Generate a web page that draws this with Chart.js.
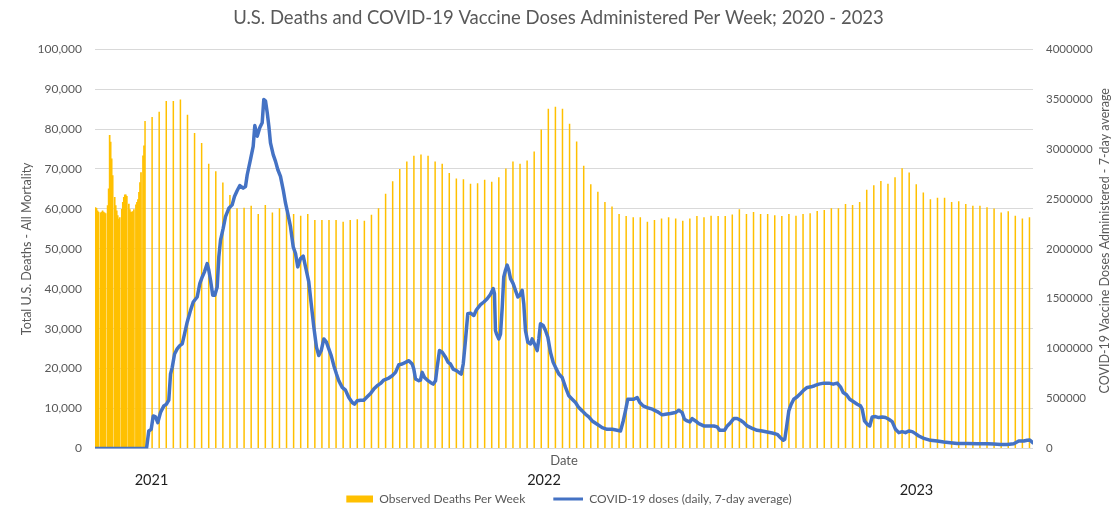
<!DOCTYPE html>
<html>
<head>
<meta charset="utf-8">
<script src="https://cdn.jsdelivr.net/npm/chart.js@4"></script>
<style>
  html, body { margin: 0; padding: 0; background: #ffffff; }
  #wrap { width: 1117px; height: 508px; position: relative; }
</style>
</head>
<body>
<div id="wrap"><canvas id="c" width="1117" height="508"></canvas></div>
<script>
// ---------------- DATA ----------------
const chartTitle = 'U.S. Deaths and COVID-19 Vaccine Doses Administered Per Week; 2020 - 2023';
const leftAxisTitle = 'Total U.S. Deaths - All Mortality';
const rightAxisTitle = 'COVID-19 Vaccine Doses Administered - 7-day average';
const xAxisTitle = 'Date';
const seriesLabels = ['Observed Deaths Per Week', 'COVID-19 doses (daily, 7-day average)'];
const yearLabels = ['2021', '2022', '2023'];
const yearLabelDays = [55.4, 443.7, 812.2];   // day index where each year label sits

// Deaths, late 2020 (one value per day, days 0..48; gaps where no value)
const deaths2020Daily = [
  60400, 60200, 59600, 59300, null, 59100, 59300, 59600, 59300, 59100,
  58900, null, 60900, 65100, 78500, 76800, 72600, 68400, null, 63000,
  60900, 59600, 58400, 57500, 57900, null, 60000, 61700, 63000, 63600,
  63600, 63200, null, 61300, 59900, 59300, 59300, 59400, 59900, null,
  61100, 61700, 62400, 64200, 66700, 69200, null, 73400, 75900
];
const weeklyStartDay = 49;   // first weekly value (day index), then every 7 days
const deathsWeekly = [
  82000, 83000, 84300, 87000, 87000, 87400, 83600, 79000, 76500, 71300,
  69400, 66600, 63500, 60150, 60300, 60800, 58700, 61000, 59100, 60150,
  59100, 58700, 58300, 58700, 57200, 57200, 57200, 57200, 56800, 57200,
  57400, 57000, 58500, 60150, 63800, 66900, 70000, 71900, 73300, 73600,
  73300, 71900, 71300, 69000, 67600, 67400, 66300, 66400, 67300, 66800,
  67900, 70100, 71900, 71300, 72100, 74400, 79900, 85100, 85600, 85100,
  81300, 76900, 70800, 66200, 64300, 61700, 60600, 58700, 58200, 57900,
  57900, 56800, 57200, 57600, 57900, 57600, 57000, 57600, 58200, 57900,
  58300, 58200, 58200, 58600, 59900, 58700, 59200, 58700, 58700, 58400,
  58200, 58700, 58300, 58700, 58900, 59500, 59700, 60150, 60150, 61200,
  61000, 61700, 64800, 65900, 67000, 66300, 67900, 70200, 69100, 66200,
  64100, 62400, 62800, 62800, 61700, 61900, 61200, 60800, 60800, 60400,
  60100, 59100, 59400, 58300, 57600, 57900
];

// Vaccine doses (7-day average) : day index and value
const doseDays = [
  0, 50.5, 52.7, 55.1, 57.1, 59.4, 61.6, 64.3, 67.6, 70.2,
  72.5, 74.2, 75.9, 78.2, 80.8, 83.4, 85.8, 88.1, 90.7, 94.0,
  96.7, 100.6, 103.2, 105.6, 107.8, 110.5, 112.1, 113.8, 116.0, 118.0,
  120.4, 122.0, 123.7, 126.3, 128.6, 131.9, 135.2, 137.5, 140.2, 142.8,
  146.1, 148.4, 150.1, 153.3, 156.0, 157.6, 160.0, 162.5, 164.9, 166.5,
  168.2, 169.9, 171.5, 173.1, 175.8, 178.1, 180.4, 183.0, 185.7, 188.0,
  190.2, 192.9, 195.6, 197.9, 200.1, 202.8, 205.5, 207.8, 211.0, 213.4,
  216.0, 218.6, 220.9, 223.3, 225.9, 228.5, 230.8, 233.2, 235.8, 238.4,
  240.7, 244.1, 247.3, 250.6, 254.0, 256.2, 258.9, 262.2, 265.4, 268.8,
  272.1, 275.3, 278.7, 282.0, 285.2, 290.2, 293.5, 296.8, 300.1, 303.4,
  306.7, 310.0, 313.3, 314.9, 316.6, 319.9, 321.5, 323.2, 325.5, 328.2,
  331.4, 334.1, 336.4, 338.0, 340.3, 343.0, 346.3, 348.9, 351.2, 353.9,
  357.1, 359.4, 361.8, 363.8, 366.0, 368.3, 371.0, 374.3, 376.9, 380.9,
  384.2, 387.5, 390.8, 393.5, 394.7, 395.7, 396.7, 399.0, 400.7, 402.4,
  403.9, 405.6, 407.3, 408.9, 410.6, 413.2, 415.5, 417.8, 419.8, 422.1,
  423.7, 425.4, 427.7, 430.4, 432.0, 434.3, 437.0, 438.6, 440.2, 442.9,
  445.2, 447.5, 450.1, 452.8, 455.1, 458.4, 461.7, 465.0, 468.3, 471.6,
  474.9, 478.1, 481.5, 484.8, 488.0, 491.4, 496.3, 501.3, 506.2, 511.2,
  516.1, 519.4, 522.1, 524.3, 526.6, 529.3, 532.5, 535.9, 538.5, 541.8,
  545.8, 550.8, 555.7, 560.6, 563.9, 568.9, 573.8, 577.1, 580.4, 582.7,
  585.4, 588.0, 590.3, 593.6, 596.9, 601.8, 606.8, 611.7, 615.1, 617.6,
  622.3, 625.0, 628.2, 631.5, 634.8, 638.1, 641.4, 644.7, 649.7, 654.6,
  659.6, 664.5, 669.5, 674.4, 677.7, 680.4, 681.9, 683.6, 685.9, 688.3,
  690.8, 694.2, 697.5, 700.7, 704.1, 708.1, 711.3, 715.6, 720.5, 725.5,
  729.8, 733.8, 737.0, 739.7, 743.0, 746.2, 749.6, 753.6, 756.8, 758.5,
  760.8, 763.5, 766.0, 768.4, 771.7, 774.9, 778.3, 781.6, 784.8, 788.2,
  791.5, 794.7, 798.1, 801.3, 804.6, 808.0, 811.2, 814.5, 819.5, 826.1,
  832.7, 839.2, 845.9, 852.5, 862.4, 872.3, 882.2, 888.7, 895.3, 902.0,
  908.5, 913.4, 918.4, 921.8, 924.3, 927.3
];
const doseValues = [
  0, 0, 174500, 191000, 325500, 315000, 258000, 359000, 426000, 443000,
  483000, 745000, 812000, 946000, 997000, 1030000, 1047000, 1148000, 1265000, 1383000,
  1467000, 1517000, 1651000, 1718000, 1769000, 1852000, 1785000, 1685000, 1534000, 1534000,
  1618000, 1920000, 2087000, 2205000, 2322000, 2406000, 2440000, 2524000, 2584000, 2634000,
  2608000, 2624000, 2742000, 2893000, 3027000, 3235000, 3128000, 3212000, 3262000, 3497000,
  3480000, 3363000, 3228000, 3061000, 2943000, 2876000, 2792000, 2725000, 2591000, 2457000,
  2356000, 2222000, 2020000, 1953000, 1819000, 1903000, 1926000, 1819000, 1668000, 1450000,
  1215000, 1013000, 930000, 980000, 1097000, 1064000, 997000, 930000, 829000, 745000,
  678000, 611000, 584000, 510000, 460000, 443000, 477000, 483000, 483000, 517000,
  550000, 594000, 628000, 651000, 685000, 705000, 728000, 762000, 839000, 846000,
  862000, 879000, 846000, 795000, 695000, 678000, 685000, 762000, 711000, 685000,
  661000, 644000, 678000, 812000, 980000, 963000, 913000, 862000, 846000, 795000,
  779000, 762000, 745000, 846000, 1081000, 1349000, 1356000, 1332000, 1389000, 1440000,
  1467000, 1500000, 1544000, 1601000, 1550000, 1181000, 1148000, 1097000, 1148000, 1416000,
  1718000, 1785000, 1836000, 1785000, 1701000, 1651000, 1584000, 1517000, 1534000, 1584000,
  1450000, 1181000, 1064000, 1047000, 1097000, 1047000, 980000, 1097000, 1248000, 1232000,
  1181000, 1114000, 963000, 862000, 812000, 745000, 711000, 611000, 527000, 493000,
  460000, 409000, 376000, 342000, 315000, 275000, 242000, 208000, 191000, 191000,
  181000, 174000, 275000, 376000, 493000, 493000, 493000, 510000, 460000, 426000,
  409000, 393000, 369000, 336000, 342000, 349000, 359000, 383000, 359000, 292000,
  275000, 265000, 299000, 275000, 248000, 225000, 225000, 225000, 215000, 181000,
  181000, 225000, 258000, 299000, 299000, 282000, 258000, 225000, 201000, 181000,
  174000, 164000, 154000, 141000, 107000, 81000, 91000, 208000, 376000, 443000,
  493000, 517000, 550000, 584000, 611000, 617000, 628000, 644000, 654000, 654000,
  644000, 654000, 617000, 560000, 537000, 493000, 470000, 443000, 426000, 393000,
  275000, 242000, 225000, 315000, 319000, 309000, 315000, 309000, 292000, 268000,
  191000, 158000, 168000, 158000, 174000, 168000, 148000, 124000, 101000, 81000,
  74000, 64000, 57000, 50000, 50000, 47000, 47000, 44000, 40000, 40000,
  47000, 74000, 74000, 81000, 84000, 57000
];

// ---------------- STYLE ----------------
const FONT = "Lato, 'Open Sans', sans-serif";
const TEXT = '#595959';
const GOLD = '#FFC000';
const BLUE = '#4472C4';

// ---------------- BUILD ----------------
const dailyPts = [];
deaths2020Daily.forEach((v, i) => { if (v !== null) dailyPts.push({x: i, y: v}); });
const weeklyPts = deathsWeekly.map((v, k) => ({x: weeklyStartDay + 7 * k, y: v}));
const dosePts = doseDays.map((d, i) => ({x: d, y: doseValues[i]}));

function swatch(w, h, dw, dh, color) {
  const c = document.createElement('canvas');
  c.width = w; c.height = h;
  const g = c.getContext('2d');
  g.fillStyle = color;
  g.fillRect(w - dw, (h - dh) / 2, dw, dh);
  return c;
}
const goldSwatch = swatch(48, 8, 27, 7, GOLD);
const blueSwatch = swatch(48, 4, 30, 3, BLUE);

const LEGEND_CENTER_Y = 499;
const legendShift = {
  id: 'legendShift',
  afterLayout(chart) {
    const l = chart.legend;
    if (!l) return;
    const pad = l.options.labels.padding;
    const dy = LEGEND_CENTER_Y - (l.top + pad + 6);
    l.top += dy; l.bottom += dy;
  }
};

const extraText = {
  id: 'extraText',
  afterDraw(chart) {
    const ctx = chart.ctx;
    const xs = chart.scales.x;
    const ys = chart.scales.y2;
    ctx.save();
    // right axis title, reading bottom to top
    ctx.translate(chart.width - 12, (ys.top + ys.bottom) / 2 - 8);
    ctx.rotate(-Math.PI / 2);
    ctx.font = '12.5px ' + FONT;
    ctx.fillStyle = TEXT;
    ctx.textAlign = 'center';
    ctx.textBaseline = 'middle';
    ctx.fillText(rightAxisTitle, 0, 0);
    ctx.restore();
    // year labels
    const yearY = [480, 480, 490];
    ctx.save();
    ctx.font = '14.5px ' + FONT;
    ctx.fillStyle = '#1e1e1e';
    ctx.textAlign = 'center';
    ctx.textBaseline = 'middle';
    yearLabels.forEach((t, i) => ctx.fillText(t, xs.getPixelForValue(yearLabelDays[i]), yearY[i]));
    ctx.restore();
  }
};

new Chart(document.getElementById('c'), {
  type: 'bar',
  data: {
    datasets: [
      { type: 'line', label: seriesLabels[1], data: dosePts, yAxisID: 'y2', xAxisID: 'x',
        borderColor: BLUE, backgroundColor: BLUE, borderWidth: 3.5, pointRadius: 0,
        tension: 0, borderJoinStyle: 'round', borderCapStyle: 'round', order: 0 },
      { type: 'bar', label: seriesLabels[0], data: weeklyPts, yAxisID: 'y', xAxisID: 'x',
        backgroundColor: GOLD, borderWidth: 0, barThickness: 1.5, grouped: false,
        inflateAmount: 0, order: 1 },
      { type: 'bar', label: seriesLabels[0], data: dailyPts, yAxisID: 'y', xAxisID: 'x',
        backgroundColor: GOLD, borderWidth: 0, barThickness: 1.7, grouped: false,
        inflateAmount: 0, order: 2 }
    ]
  },
  options: {
    responsive: false,
    animation: false,
    events: [],
    layout: { padding: { left: 0, right: 0, top: 0, bottom: 7 } },
    plugins: {
      title: {
        display: true, text: chartTitle, color: TEXT,
        font: { family: FONT, size: 18.5, weight: 'normal' },
        padding: { top: 7, bottom: 20 }
      },
      legend: {
        position: 'bottom',
        labels: {
          usePointStyle: true, pointStyleWidth: 48, boxHeight: 8,
          padding: 10, color: TEXT,
          font: { family: FONT, size: 12 },
          generateLabels: () => [
            { text: seriesLabels[0], pointStyle: goldSwatch, fillStyle: GOLD, strokeStyle: GOLD,
              lineWidth: 0, hidden: false, datasetIndex: 1, fontColor: TEXT },
            { text: seriesLabels[1], pointStyle: blueSwatch, fillStyle: BLUE, strokeStyle: BLUE,
              lineWidth: 0, hidden: false, datasetIndex: 0, fontColor: TEXT }
          ]
        }
      },
      tooltip: { enabled: false }
    },
    scales: {
      x: {
        type: 'linear', min: -0.5, max: 927.5, offset: false,
        grid: { display: false, drawTicks: false },
        border: { display: false },
        ticks: { display: false },
        title: { display: true, text: xAxisTitle, color: TEXT,
                 font: { family: FONT, size: 13 }, padding: { top: 5, bottom: 0 } }
      },
      y: {
        position: 'left', min: 0, max: 100000,
        ticks: { stepSize: 10000, color: TEXT, padding: 13,
                 font: { family: FONT, size: 12 },
                 callback: v => Number(v).toLocaleString('en-US') },
        grid: { color: '#d9d9d9', lineWidth: 1, drawTicks: false },
        border: { display: false },
        title: { display: true, text: leftAxisTitle, color: TEXT,
                 font: { family: FONT, size: 12.5 }, padding: { top: 19, bottom: 0 } },
        afterFit: s => { s.width = 95; }
      },
      y2: {
        position: 'right', min: 0, max: 4000000,
        ticks: { stepSize: 500000, color: TEXT, padding: 13,
                 font: { family: FONT, size: 11.5 },
                 callback: v => String(v) },
        grid: { display: false, drawTicks: false },
        border: { display: false },
        afterFit: s => { s.width = 84; }
      }
    }
  },
  plugins: [legendShift, extraText]
});
</script>
</body>
</html>
